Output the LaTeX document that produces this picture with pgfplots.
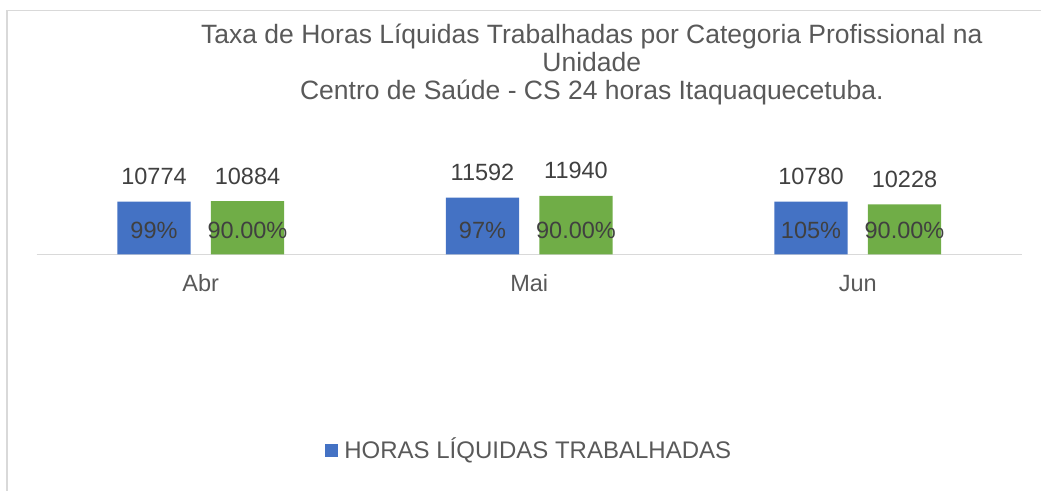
\documentclass[border=0pt]{standalone}
\usepackage{fontspec}
\setmainfont{Liberation Sans}
\usepackage{pgfplots}
\pgfplotsset{compat=1.18}
\definecolor{barblue}{HTML}{4472C4}
\definecolor{bargreen}{HTML}{70AD47}
\definecolor{txtgray}{HTML}{595959}
\definecolor{lblgray}{HTML}{404040}
\definecolor{linegray}{HTML}{D9D9D9}
\newcommand\lblfont{\fontsize{23.5bp}{28bp}\selectfont}
\newcommand\lgdfont{\fontsize{24bp}{28bp}\selectfont}
\newcommand\ttlfont{\fontsize{26.5bp}{28bp}\selectfont}
\begin{document}
\begin{tikzpicture}[x=1bp,y=1bp]
\useasboundingbox (0,0) rectangle (1041,491);
\draw[linegray, line width=1.5bp] (6.8,-5) -- (6.8,480.4) -- (1046,480.4);
\node[txtgray, font=\ttlfont, anchor=base, inner sep=0pt] at (591.8,447) {Taxa de Horas Líquidas Trabalhadas por Categoria Profissional na};
\node[txtgray, font=\ttlfont, anchor=base, inner sep=0pt] at (591.8,419) {Unidade};
\node[txtgray, font=\ttlfont, anchor=base, inner sep=0pt] at (591.8,391) {Centro de Saúde - CS 24 horas Itaquaquecetuba.};
\begin{axis}[
  at={(36.5bp,236.5bp)}, anchor=south west,
  scale only axis, width=985.5bp, height=105bp,
  xmin=-0.5, xmax=2.5, ymin=0, ymax=21420,
  enlargelimits=false, clip=false,
  axis y line=none, axis x line=bottom,
  x axis line style={-, draw=linegray, line width=1.3bp},
  xtick={0,1,2}, xticklabels={Abr,Mai,Jun},
  major tick length=0pt, xtick style={draw=none},
  xticklabel style={anchor=base, inner sep=0pt, yshift=-37.2bp, font=\lblfont, text=txtgray},
  ybar, bar width=73.4bp,
  legend style={at={(axis description cs:0.5,0)}, anchor=center, yshift=-196bp, xshift=-1bp,
    draw=none, fill=none, inner sep=0pt, column sep=6bp,
    nodes={inner sep=0pt, text height=17bp, text depth=0pt, font=\lgdfont, text=txtgray},
    cells={anchor=base}},
]
\addplot[fill=barblue, draw=none, bar shift=-46.75bp,
  legend image code/.code={\fill[barblue] (0bp,1.5bp) rectangle (13bp,15bp);},
  nodes near coords={\pgfmathprintnumber[fixed,precision=0,1000 sep={},assume math mode=true]{\pgfplotspointmeta}},
  every node near coord/.append style={anchor=base, inner sep=0pt, yshift=17bp, text=lblgray, font=\lblfont}]
  coordinates {(0,10774) (1,11592) (2,10780)};
\addlegendentry{HORAS LÍQUIDAS TRABALHADAS}
\addplot[fill=bargreen, draw=none, bar shift=46.75bp, forget plot,
  nodes near coords={\pgfmathprintnumber[fixed,precision=0,1000 sep={},assume math mode=true]{\pgfplotspointmeta}},
  every node near coord/.append style={anchor=base, inner sep=0pt, yshift=17bp, text=lblgray, font=\lblfont}]
  coordinates {(0,10884) (1,11940) (2,10228)};
\addplot[draw=none, fill=none, forget plot, bar shift=-46.75bp,
  point meta=explicit symbolic, nodes near coords,
  visualization depends on={rawy \as \rawy},
  every node near coord/.append style={anchor=base, inner sep=0pt, yshift={(16.2-\rawy/204)*1bp}, text=lblgray, font=\lblfont}]
  coordinates {(0,10774) [99\%] (1,11592) [97\%] (2,10780) [105\%]};
\addplot[draw=none, fill=none, forget plot, bar shift=46.75bp,
  point meta=explicit symbolic, nodes near coords,
  visualization depends on={rawy \as \rawy},
  every node near coord/.append style={anchor=base, inner sep=0pt, yshift={(16.2-\rawy/204)*1bp}, text=lblgray, font=\lblfont}]
  coordinates {(0,10884) [90.00\%] (1,11940) [90.00\%] (2,10228) [90.00\%]};
\end{axis}
\end{tikzpicture}
\end{document}
